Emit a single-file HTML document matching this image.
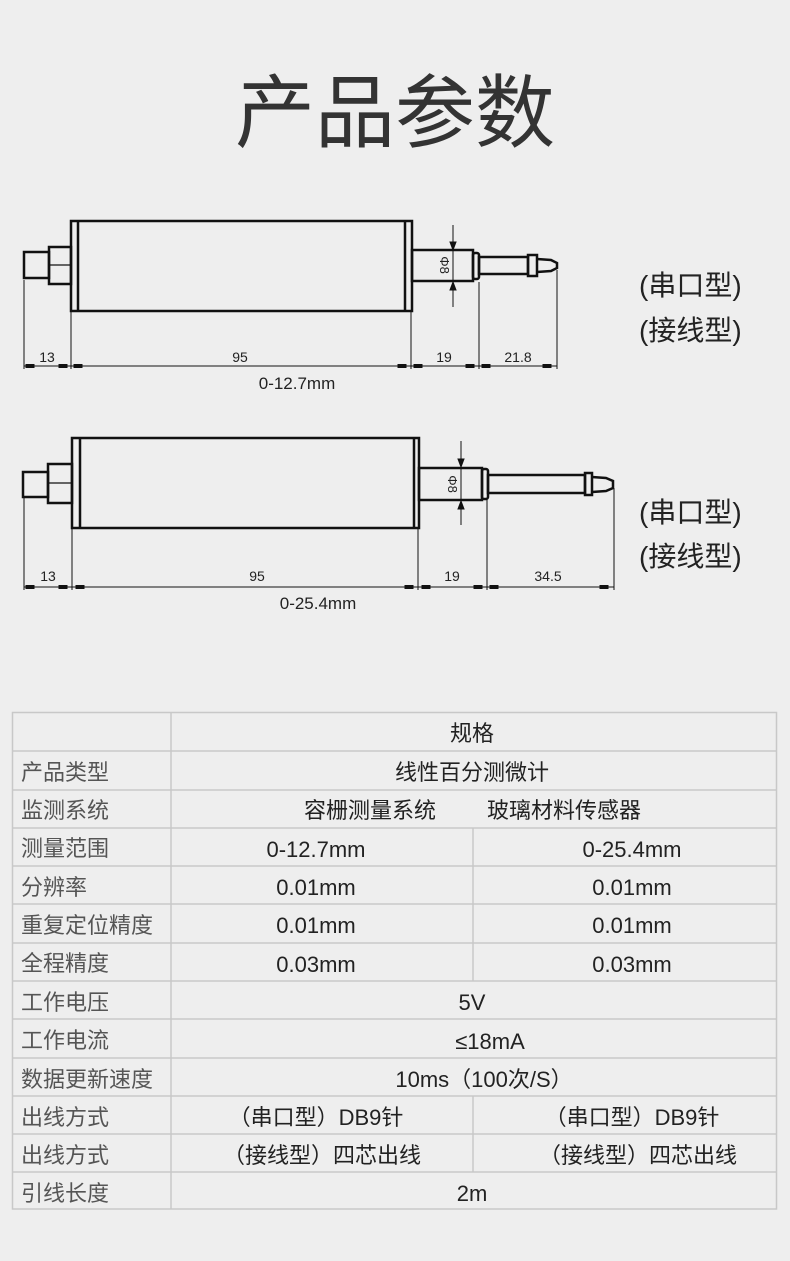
<!DOCTYPE html>
<html><head><meta charset="utf-8"><style>
html,body{margin:0;padding:0;background:#eeeeee;}
svg{display:block;}
text{font-family:"Liberation Sans","Noto Sans CJK SC",sans-serif;}
</style></head><body>
<svg width="790" height="1261" viewBox="0 0 790 1261" xmlns="http://www.w3.org/2000/svg">
<rect width="790" height="1261" fill="#eeeeee"/>
<text x="395" y="141" font-size="80" fill="#333" text-anchor="middle" style="font-family:'Noto Sans CJK SC',sans-serif">产品参数</text>

<!-- Diagram 1 -->
<g fill="none" stroke="#111" stroke-width="2.5">
<rect x="24" y="252" width="25" height="26"/>
<rect x="49" y="247" width="22" height="37"/>
<line x1="49" y1="265" x2="71" y2="265" stroke-width="1.2"/>
<rect x="71" y="221" width="341" height="90"/>
<line x1="78" y1="221" x2="78" y2="311"/>
<line x1="405" y1="221" x2="405" y2="311"/>
<rect x="412" y="250" width="61" height="31"/>
<rect x="473" y="253" width="6" height="26" rx="2"/>
<rect x="479" y="257" width="49" height="17"/>
<rect x="528" y="255" width="9" height="21"/>
<path d="M537 259 L551 260 L557 263 L557 268 L551 271 L537 272"/>
</g>
<g stroke="#111" stroke-width="1" fill="#111">
<line x1="24" y1="280" x2="24" y2="369"/><line x1="71" y1="312" x2="71" y2="369"/>
<line x1="411" y1="312" x2="411" y2="369"/><line x1="479" y1="282" x2="479" y2="369"/>
<line x1="557" y1="270" x2="557" y2="369"/>
<line x1="24" y1="366" x2="557" y2="366"/>
<line x1="453" y1="225" x2="453" y2="307"/>
<polygon points="450,242 456,242 453,250"/><polygon points="450,290 456,290 453,282"/>
<rect x="26" y="364.5" width="8" height="3"/><rect x="59" y="364.5" width="8" height="3"/>
<rect x="74" y="364.5" width="8" height="3"/><rect x="398" y="364.5" width="8" height="3"/>
<rect x="414" y="364.5" width="8" height="3"/><rect x="466" y="364.5" width="8" height="3"/>
<rect x="482" y="364.5" width="8" height="3"/><rect x="543" y="364.5" width="8" height="3"/>
</g>
<g font-size="14" fill="#222" text-anchor="middle">
<text x="47" y="362">13</text><text x="240" y="362">95</text><text x="444" y="362">19</text><text x="518" y="362">21.8</text>
<text x="297" y="389" font-size="17">0-12.7mm</text>
<text transform="translate(440,265) rotate(90)" font-size="13" text-anchor="middle">Φ8</text>
</g>
<g font-size="28" fill="#222">
<text x="639" y="295">(串口型)</text><text x="639" y="340">(接线型)</text>
</g>

<!-- Diagram 2 -->
<g fill="none" stroke="#111" stroke-width="2.5">
<rect x="23" y="472" width="25" height="25"/>
<rect x="48" y="464" width="24" height="39"/>
<line x1="48" y1="483" x2="72" y2="483" stroke-width="1.2"/>
<rect x="72" y="438" width="347" height="90"/>
<line x1="80" y1="438" x2="80" y2="528"/>
<line x1="414" y1="438" x2="414" y2="528"/>
<rect x="419" y="468" width="63" height="32"/>
<rect x="482" y="469" width="6" height="30" rx="2"/>
<rect x="488" y="475" width="97" height="18"/>
<rect x="585" y="473" width="7" height="22"/>
<path d="M592 477 L606 478 L613 481 L613 488 L606 491 L592 492"/>
</g>
<g stroke="#111" stroke-width="1" fill="#111">
<line x1="24" y1="498" x2="24" y2="590"/><line x1="72" y1="529" x2="72" y2="590"/>
<line x1="418" y1="529" x2="418" y2="590"/><line x1="487" y1="500" x2="487" y2="590"/>
<line x1="614" y1="488" x2="614" y2="590"/>
<line x1="24" y1="587" x2="614" y2="587"/>
<line x1="461" y1="441" x2="461" y2="525"/>
<polygon points="458,459 464,459 461,467"/><polygon points="458,509 464,509 461,501"/>
<rect x="26" y="585.5" width="8" height="3"/><rect x="59" y="585.5" width="8" height="3"/>
<rect x="76" y="585.5" width="8" height="3"/><rect x="405" y="585.5" width="8" height="3"/>
<rect x="422" y="585.5" width="8" height="3"/><rect x="474" y="585.5" width="8" height="3"/>
<rect x="490" y="585.5" width="8" height="3"/><rect x="600" y="585.5" width="8" height="3"/>
</g>
<g font-size="14" fill="#222" text-anchor="middle">
<text x="48" y="581">13</text><text x="257" y="581">95</text><text x="452" y="581">19</text><text x="548" y="581">34.5</text>
<text x="318" y="609" font-size="17">0-25.4mm</text>
<text transform="translate(448,484) rotate(90)" font-size="13" text-anchor="middle">Φ8</text>
</g>
<g font-size="28" fill="#222">
<text x="639" y="522">(串口型)</text><text x="639" y="566">(接线型)</text>
</g>

<!-- Table -->
<g stroke="#c8c8c8" stroke-width="1.5" fill="none">
<rect x="12.5" y="712.5" width="764" height="496.5"/>
<line x1="171" y1="712" x2="171" y2="1209"/>
<line x1="12" y1="751" x2="777" y2="751"/>
<line x1="12" y1="790" x2="777" y2="790"/>
<line x1="12" y1="828" x2="777" y2="828"/>
<line x1="12" y1="866" x2="777" y2="866"/>
<line x1="12" y1="904" x2="777" y2="904"/>
<line x1="12" y1="943" x2="777" y2="943"/>
<line x1="12" y1="981" x2="777" y2="981"/>
<line x1="12" y1="1019" x2="777" y2="1019"/>
<line x1="12" y1="1058" x2="777" y2="1058"/>
<line x1="12" y1="1096" x2="777" y2="1096"/>
<line x1="12" y1="1134" x2="777" y2="1134"/>
<line x1="12" y1="1172" x2="777" y2="1172"/>
<line x1="473" y1="828" x2="473" y2="981"/>
<line x1="473" y1="1096" x2="473" y2="1172"/>
</g>
<g font-size="22" fill="#555">
<text x="21" y="780">产品类型</text>
<text x="21" y="818">监测系统</text>
<text x="21" y="856">测量范围</text>
<text x="21" y="895">分辨率</text>
<text x="21" y="933">重复定位精度</text>
<text x="21" y="971">全程精度</text>
<text x="21" y="1010">工作电压</text>
<text x="21" y="1048">工作电流</text>
<text x="21" y="1087">数据更新速度</text>
<text x="21" y="1125">出线方式</text>
<text x="21" y="1163">出线方式</text>
<text x="21" y="1201">引线长度</text>
</g>
<g font-size="22" fill="#222" text-anchor="middle">
<text x="472" y="741">规格</text>
<text x="472" y="780">线性百分测微计</text>
<text x="370" y="818">容栅测量系统</text><text x="564" y="818">玻璃材料传感器</text>
<text x="316" y="857">0-12.7mm</text><text x="632" y="857">0-25.4mm</text>
<text x="316" y="895">0.01mm</text><text x="632" y="895">0.01mm</text>
<text x="316" y="933">0.01mm</text><text x="632" y="933">0.01mm</text>
<text x="316" y="972">0.03mm</text><text x="632" y="972">0.03mm</text>
<text x="472" y="1010">5V</text>
<text x="490" y="1049">≤18mA</text>
<text x="484" y="1087">10ms（100次/S）</text>
<text x="316" y="1125">（串口型）DB9针</text><text x="632" y="1125">（串口型）DB9针</text>
<text x="322" y="1163">（接线型）四芯出线</text><text x="638" y="1163">（接线型）四芯出线</text>
<text x="472" y="1201">2m</text>
</g>
</svg>
</body></html>
